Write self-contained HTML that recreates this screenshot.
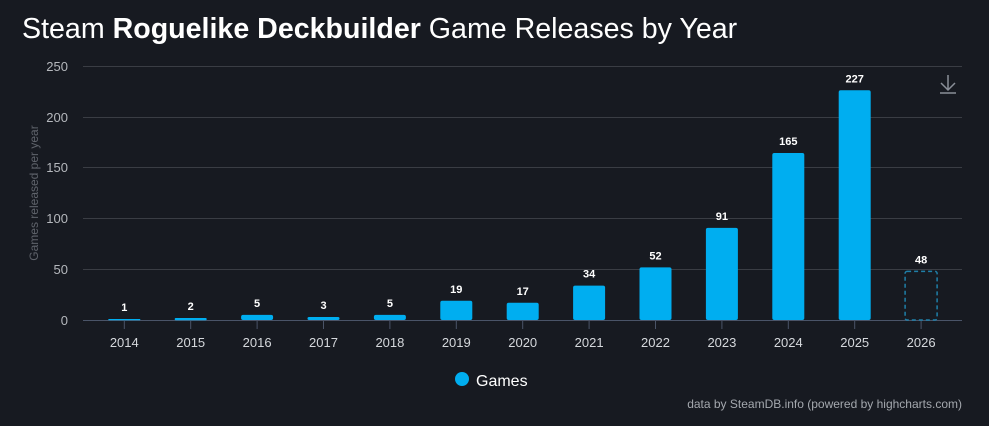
<!DOCTYPE html>
<html><head><meta charset="utf-8"><style>
html,body{margin:0;padding:0;background:#171a21;}
svg{display:block;font-family:"Liberation Sans",sans-serif;}
</style></head><body>
<svg width="989" height="426" xmlns="http://www.w3.org/2000/svg">
<rect width="989" height="426" fill="#171a21"/>
<text x="22" y="38" font-size="28.6" fill="#fff">Steam <tspan font-weight="bold">Roguelike Deckbuilder</tspan> Game Releases by Year</text>
<g stroke="#3a3d44" stroke-width="1">
<line x1="83" x2="962" y1="66.5" y2="66.5"/>
<line x1="83" x2="962" y1="117.5" y2="117.5"/>
<line x1="83" x2="962" y1="167.5" y2="167.5"/>
<line x1="83" x2="962" y1="218.5" y2="218.5"/>
<line x1="83" x2="962" y1="269.5" y2="269.5"/>
</g>
<line x1="83" x2="962" y1="320.5" y2="320.5" stroke="#4a5468"/>
<g fill="#b5b8bd" font-size="13" text-anchor="end">
<text x="68" y="71">250</text><text x="68" y="122">200</text><text x="68" y="172">150</text>
<text x="68" y="223">100</text><text x="68" y="274">50</text><text x="68" y="325">0</text>
</g>
<text transform="translate(38,193) rotate(-90)" text-anchor="middle" font-size="12" fill="#5f636b">Games released per year</text>
<g stroke="#4a5468">
<line x1="124.3" x2="124.3" y1="321" y2="329"/><line x1="190.7" x2="190.7" y1="321" y2="329"/>
<line x1="257.1" x2="257.1" y1="321" y2="329"/><line x1="323.5" x2="323.5" y1="321" y2="329"/>
<line x1="389.9" x2="389.9" y1="321" y2="329"/><line x1="456.3" x2="456.3" y1="321" y2="329"/>
<line x1="522.7" x2="522.7" y1="321" y2="329"/><line x1="589.1" x2="589.1" y1="321" y2="329"/>
<line x1="655.5" x2="655.5" y1="321" y2="329"/><line x1="721.9" x2="721.9" y1="321" y2="329"/>
<line x1="788.3" x2="788.3" y1="321" y2="329"/><line x1="854.7" x2="854.7" y1="321" y2="329"/>
<line x1="921.1" x2="921.1" y1="321" y2="329"/>
</g>
<g fill="#00aef0">
<rect x="108.3" y="319" width="32" height="1.2" rx="0.5"/>
<rect x="174.7" y="318" width="32" height="2.2" rx="1"/>
<rect x="241.1" y="314.9" width="32" height="5.1" rx="2"/>
<rect x="307.5" y="317" width="32" height="3" rx="1.5"/>
<rect x="373.9" y="314.9" width="32" height="5.1" rx="2"/>
<rect x="440.3" y="300.8" width="32" height="19.2" rx="2"/>
<rect x="506.7" y="302.8" width="32" height="17.2" rx="2"/>
<rect x="573.1" y="285.6" width="32" height="34.4" rx="2"/>
<rect x="639.5" y="267.4" width="32" height="52.6" rx="2"/>
<rect x="705.9" y="227.9" width="32" height="92.1" rx="2"/>
<rect x="772.3" y="153" width="32" height="167" rx="2"/>
<rect x="838.7" y="90.3" width="32" height="229.7" rx="2"/>
</g>
<rect x="905.1" y="271.4" width="32" height="48.6" rx="2" fill="none" stroke="#1f7fa8" stroke-width="1.5" stroke-dasharray="4,3"/>
<g font-size="11" font-weight="bold" fill="#fff" text-anchor="middle">
<text x="124.3" y="311">1</text><text x="190.7" y="310">2</text><text x="257.1" y="307">5</text>
<text x="323.5" y="309">3</text><text x="389.9" y="307">5</text><text x="456.3" y="293">19</text>
<text x="522.7" y="295">17</text><text x="589.1" y="277.6">34</text><text x="655.5" y="259.4">52</text>
<text x="721.9" y="219.9">91</text><text x="788.3" y="145">165</text><text x="854.7" y="82.3">227</text>
<text x="921.1" y="263.4">48</text>
</g>
<g font-size="13" fill="#d5d8dc" text-anchor="middle">
<text x="124.3" y="347">2014</text><text x="190.7" y="347">2015</text><text x="257.1" y="347">2016</text>
<text x="323.5" y="347">2017</text><text x="389.9" y="347">2018</text><text x="456.3" y="347">2019</text>
<text x="522.7" y="347">2020</text><text x="589.1" y="347">2021</text><text x="655.5" y="347">2022</text>
<text x="721.9" y="347">2023</text><text x="788.3" y="347">2024</text><text x="854.7" y="347">2025</text>
<text x="921.1" y="347">2026</text>
</g>
<g stroke="#8a8f98" fill="none" stroke-width="1.5">
<line x1="948" y1="75" x2="948" y2="90"/><polyline points="941,83 948,90 955,83"/><line x1="940" y1="93" x2="956" y2="93"/>
</g>
<circle cx="462" cy="379" r="7" fill="#00aef0"/>
<text x="476" y="386" font-size="16" fill="#fff">Games</text>
<text x="962" y="408" text-anchor="end" font-size="12" fill="#a4a8ae">data by SteamDB.info (powered by highcharts.com)</text>
</svg>
</body></html>
